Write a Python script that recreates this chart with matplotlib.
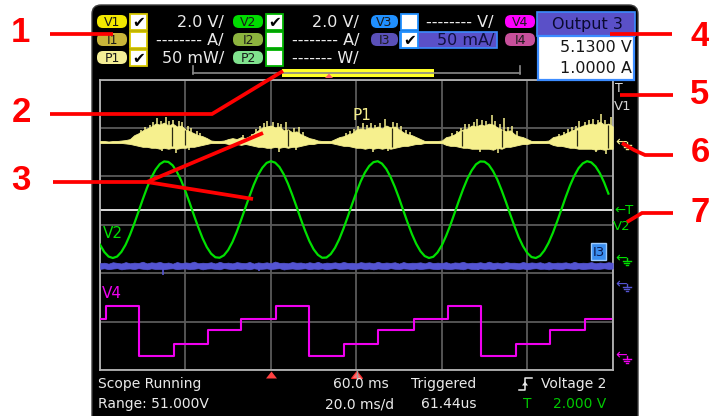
import numpy as np
import matplotlib
matplotlib.use("Agg")
import matplotlib.pyplot as plt
from matplotlib.patches import FancyBboxPatch, Rectangle, Polygon

# ---------------- data ----------------
TIME_DIV_MS = 20.0          # "20.0 ms/d"
N_DIV_X, N_DIV_Y = 6, 6
SAMPLE_MS = 1.0             # spacing of the values read below

# V2 (volts, 2.0 V/div), read every 1 ms from t = 0
v2_volts = [0.55, 0.25, 0.06, 0.00, 0.06, 0.25, 0.55, 0.95, 1.41, 1.91,
            2.42, 2.90, 3.32, 3.65, 3.88, 3.99, 3.97, 3.83, 3.56, 3.20,
            2.76, 2.27, 1.76, 1.27, 0.82, 0.45, 0.18, 0.03, 0.01, 0.11,
            0.33, 0.66, 1.08, 1.56, 2.06, 2.56, 3.03, 3.43, 3.73, 3.93,
            4.00, 3.94, 3.76, 3.46, 3.07, 2.61, 2.12, 1.61, 1.13, 0.70,
            0.36, 0.13, 0.01, 0.02, 0.16, 0.42, 0.78, 1.22, 1.71, 2.22,
            2.71, 3.16, 3.53, 3.80, 3.96, 4.00, 3.90, 3.68, 3.35, 2.94,
            2.47, 1.96, 1.46, 0.99, 0.59, 0.28, 0.08, 0.00, 0.05, 0.23,
            0.52, 0.91, 1.36, 1.86, 2.37, 2.85, 3.28, 3.62, 3.87, 3.99,
            3.98, 3.85, 3.59, 3.24, 2.80, 2.32, 1.81, 1.32, 0.86, 0.49,
            0.21, 0.04, 0.00, 0.09, 0.31, 0.63, 1.04, 1.51, 2.01, 2.52,
            2.99, 3.39, 3.71, 3.91, 4.00, 3.95, 3.78, 3.50, 3.12, 2.66]

# P1 (mW, 50 mW/div): upper / lower envelope of the noisy trace, every 1 ms
p1_upper_mw = [1, 1, 0.5, 1, 1, 1.5, 2, 3, 7, 9,
               12, 14, 16, 19, 18, 20, 17, 19, 16, 17,
               13, 11, 9, 7, 6, 4, 1.5, 1, 1, 1.5,
               3, 4, 3, 5, 4, 6, 9, 12, 15, 16,
               17, 15, 16, 12, 13, 10, 11, 8, 6, 4,
               3, 1.5, 1, 1, 1, 3, 5, 6, 8, 9,
               13, 14, 13, 15, 14, 16, 14, 17, 15, 16,
               13, 10, 8, 7, 5, 3, 1, 1, 1, 1,
               1.5, 5, 6, 8, 11, 13, 14, 17, 16, 18,
               17, 19, 18, 15, 13, 11, 12, 8, 6, 5,
               3, 1, 1, 1, 1, 1.5, 5, 6, 7, 9,
               11, 13, 15, 17, 18, 19, 18, 21, 18, 19, 16]
p1_lower_mw = [-1, -1, -1, -1, -1, -1, -1.5, -2, -3, -4,
               -5, -5, -6, -6, -7, -6, -7, -6, -7, -6,
               -6, -5, -5, -4, -3, -2, -1, -1, -1, -1,
               -2, -2, -2, -3, -2, -3, -4, -5, -5, -6,
               -6, -5, -6, -5, -6, -5, -5, -4, -3, -2,
               -2, -1, -1, -1, -1, -2, -3, -4, -4, -5,
               -6, -6, -7, -6, -7, -6, -7, -6, -7, -6,
               -5, -4, -4, -3, -2, -2, -1, -1, -1, -1,
               -1, -3, -4, -4, -5, -6, -6, -7, -7, -7,
               -7, -7, -8, -6, -7, -5, -5, -4, -3, -2,
               -2, -1, -1, -1, -1, -1, -3, -4, -4, -5,
               -6, -6, -7, -7, -7, -7, -8, -7, -8, -7, -7]
p1_spike_t = [9.5, 10.5, 11.6, 12.4, 13.3, 14.2, 15.4, 16.2, 17.0, 18.4,
              19.3, 20.5, 21.4, 22.6, 23.5,
              33.5, 35.5, 36.6, 37.4, 38.3, 39.0, 40.4, 41.6, 42.4, 43.5,
              45.3, 46.5, 47.6,
              57.5, 58.6, 59.5, 60.5, 61.5, 62.6, 63.5, 64.4, 65.6, 66.8,
              68.5, 69.5, 70.5, 71.6, 72.5,
              82.5, 83.6, 84.4, 85.5, 86.4, 87.5, 88.3, 89.5, 90.4, 91.7,
              92.5, 93.6, 94.5, 95.5, 96.5, 97.6,
              107.5, 108.6, 109.5, 110.5, 111.4, 112.0, 113.5, 114.5, 115.4, 116.5,
              117.3, 118.2, 119.5,
              14.5, 17.8, 20.8, 42.0, 45.8, 64.0, 67.5, 89.0, 93.2, 116.0, 118.5]
p1_spike_mw = [12, 15, 18, 21, 25, 22, 26, 22, 23, 22,
               21, 16, 14, 11, 9,
               7, 8, 13, 16, 20, 22, 21, 20, 19, 21,
               14, 15, 10,
               9, 11, 13, 17, 20, 18, 20, 18, 20, 24,
               21, 20, 16, 12, 10,
               9, 11, 14, 19, 19, 21, 24, 23, 22, 28,
               22, 19, 25, 15, 16, 11,
               8, 10, 13, 15, 17, 22, 21, 23, 24, 23,
               29, 23, 26,
               -9, -11, -8, -10, -8, -10, -9, -10, -11, -10, -12]
p1_gap_t = [16.9, 19.9, 44.0, 68.3, 84.7, 94.0, 111.6, 118.9]
p1_gap_lo = [-4, -3, -4, -5, -4, -5, -4, -6]
p1_gap_hi = [15, 12, 12, 14, 11, 12, 12, 18]

# I3 (mA, 50 mA/div): noisy band, every 1 ms
i3_upper_ma = [21.5, 22.0, 21.0, 22.5, 21.8, 21.2, 22.6, 21.4, 22.1, 21.7,
               23.0, 21.3, 22.4, 21.9, 22.8, 21.5, 22.2, 21.0, 22.7, 21.6,
               22.3, 21.8, 23.1, 21.4, 22.0, 21.7, 22.5, 21.2, 22.9, 21.6,
               22.1, 21.3, 22.6, 21.9, 21.5, 22.8, 21.1, 22.3, 21.7, 22.4,
               21.5, 23.2, 21.8, 22.0, 21.4, 22.7, 21.9, 22.2, 21.3, 22.5,
               21.6, 22.9, 21.2, 22.1, 21.8, 22.4, 21.5, 22.8, 21.7, 22.0,
               21.3, 22.6, 21.9, 22.3, 21.4, 23.0, 21.6, 22.2, 21.8, 22.5,
               21.1, 22.7, 21.5, 22.0, 21.9, 22.4, 21.3, 22.8, 21.6, 22.1,
               21.7, 22.6, 21.2, 22.3, 21.9, 22.9, 21.4, 22.0, 21.8, 22.5,
               21.5, 23.1, 21.7, 22.2, 21.3, 22.6, 21.9, 22.0, 21.4, 22.8,
               21.6, 22.3, 21.8, 22.5, 21.2, 22.7, 21.5, 22.1, 21.9, 22.4,
               21.3, 22.9, 21.6, 22.0, 21.8, 22.6, 21.4, 22.2, 21.7, 22.5, 21.9]
i3_lower_ma = [15.6, 16.2, 15.3, 15.9, 16.4, 15.1, 15.8, 16.0, 15.4, 16.3,
               15.7, 15.2, 16.1, 15.5, 15.6, 15.3, 15.9, 16.2, 15.3, 15.8,
               16.0, 15.4, 15.7, 16.3, 15.1, 15.9, 16.1, 15.5, 15.2, 16.4,
               15.8, 15.3, 16.0, 15.6, 15.9, 15.2, 16.2, 15.5, 15.7, 16.1,
               15.4, 15.9, 16.3, 15.0, 15.7, 16.0, 15.5, 15.8, 16.2, 15.3,
               15.9, 15.6, 16.1, 15.2, 15.8, 16.4, 15.5, 15.7, 16.0, 15.3,
               15.8, 16.2, 15.4, 15.9, 15.1, 16.0, 15.6, 15.3, 16.3, 15.7,
               15.5, 16.1, 15.8, 15.2, 16.0, 15.4, 15.9, 16.2, 15.6, 15.3,
               16.1, 15.7, 15.4, 16.0, 15.8, 15.2, 16.3, 15.5, 15.4, 16.0,
               15.6, 15.9, 15.3, 16.2, 15.7, 15.4, 16.1, 15.8, 15.5, 16.0,
               15.2, 15.9, 16.3, 15.6, 15.8, 15.1, 16.0, 15.7, 15.4, 16.2,
               15.9, 15.5, 16.1, 15.3, 15.8, 16.0, 15.4, 15.7, 16.2, 15.6, 15.9]
i3_spike_t = [14.7, 37.2, 88.4]
i3_spike_ma = [9.0, 13.5, 14.0]

# V4 (volts, 2 V/div): staircase, level changes at these times
v4_step_t_ms = [0, 1.45, 9.15, 17.3, 25.2, 33.1, 41.2, 48.9, 57.1, 65.0,
                73.4, 81.5, 89.2, 97.3, 105.4, 113.5, 119.5]
v4_step_volts = [1.52, 2.03, 0.0, 0.48, 1.06, 1.52, 2.03, 0.0, 0.48, 1.06,
                 1.52, 2.03, 0.0, 0.48, 1.06, 1.52]

# channel scales (per division) and ground markers (in divisions from bottom)
P1_SCALE, V2_SCALE, I3_SCALE, V4_SCALE = 50.0, 2.0, 50.0, 2.0
P1_GND, V2_GND, I3_GND, V4_GND = 4.711, 2.314, 1.777, 0.298
TRIG_V = 2.0

# header texts
grp_labels = [['V1', 'I1', 'P1'], ['V2', 'I2', 'P2'], ['V3', 'I3'], ['V4', 'I4']]
grp_checked = [[True, False, True], [True, False, False], [False, True], []]
grp_scales = [['2.0 V/', '-------- A/', '50 mW/'],
              ['2.0 V/', '-------- A/', '------- W/'],
              ['-------- V/', '50 mA/'], []]
out_title = 'Output 3'
out_values = ['5.1300 V', '1.0000 A']
status_left = ['Scope Running', 'Range: 51.000V']
status_mid = ['60.0 ms', '20.0 ms/d']
status_trig = ['Triggered', '61.44us']
trig_source = 'Voltage 2'
trig_level = '2.000 V'
callouts = ['1', '2', '3', '4', '5', '6', '7']

# ---------------- figure ----------------
W, H = 709, 416
plt.rcParams['font.family'] = ['DejaVu Sans']
fig = plt.figure(figsize=(W / 100, H / 100), dpi=100)
fig.patch.set_facecolor('white')

P1C, V2C, I3C, V4C = '#F6F08E', '#00E000', '#5454D2', '#F000F0'
TXT = '#EAEAEA'

bg = fig.add_axes([0, 0, 1, 1], zorder=0)
bg.set_xlim(0, W); bg.set_ylim(H, 0); bg.axis('off')
bg.add_patch(FancyBboxPatch((92, 5), 546, 440, boxstyle="round,pad=0,rounding_size=9",
                            fc='black', ec='#3c3c3c', lw=1))

# ---------------- scope grid & traces ----------------
GX0, GX1, GY0, GY1 = 100.0, 612.7, 79.6, 370.0
ax = fig.add_axes([GX0 / W, 1 - GY1 / H, (GX1 - GX0) / W, (GY1 - GY0) / H], zorder=1)
ax.set_facecolor('black')
ax.set_xlim(0, N_DIV_X * TIME_DIV_MS); ax.set_ylim(0, N_DIV_Y)
ax.set_xticks(np.arange(0, N_DIV_X * TIME_DIV_MS + 1, TIME_DIV_MS))
ax.set_yticks(np.arange(0, N_DIV_Y + 1))
ax.tick_params(length=0, labelbottom=False, labelleft=False)
ax.grid(True, color='#5a5a5a', lw=1.3)
ax.set_axisbelow(True)
for s in ax.spines.values():
    s.set_color('#b4b4b4'); s.set_linewidth(1.3)

ax.axhline(V2_GND + TRIG_V / V2_SCALE, color='#dcdcdc', lw=1.4, zorder=2)

# V4 staircase
ax.step(v4_step_t_ms, V4_GND + np.array(v4_step_volts + [v4_step_volts[-1]]) / V4_SCALE,
        where='post', color=V4C, lw=1.5, zorder=3)

# I3 noisy band
t_i3 = np.arange(len(i3_upper_ma)) * SAMPLE_MS
ax.fill_between(t_i3, I3_GND + np.array(i3_lower_ma) / I3_SCALE,
                I3_GND + np.array(i3_upper_ma) / I3_SCALE,
                color=I3C, lw=0.5, zorder=3)
ax.vlines(i3_spike_t, I3_GND + 18 / I3_SCALE, I3_GND + np.array(i3_spike_ma) / I3_SCALE,
          color=I3C, lw=1.2, zorder=3)

# V2 sine
t_v2 = np.arange(len(v2_volts)) * SAMPLE_MS
ax.plot(t_v2, V2_GND + np.array(v2_volts) / V2_SCALE, color=V2C, lw=1.6, zorder=4)

# P1 noisy bursts
t_p1 = np.arange(len(p1_upper_mw)) * SAMPLE_MS
ax.fill_between(t_p1, P1_GND + np.array(p1_lower_mw) / P1_SCALE,
                P1_GND + np.array(p1_upper_mw) / P1_SCALE,
                color=P1C, lw=0.6, zorder=4)
ax.vlines(p1_spike_t, P1_GND, P1_GND + np.array(p1_spike_mw) / P1_SCALE,
          color=P1C, lw=1.1, zorder=4)
ax.vlines(p1_gap_t, P1_GND + np.array(p1_gap_lo) / P1_SCALE,
          P1_GND + np.array(p1_gap_hi) / P1_SCALE, color='#2a2a14', lw=0.9, zorder=5)

# ---------------- overlay (pixel coordinates) ----------------
ov = fig.add_axes([0, 0, 1, 1], zorder=3)
ov.set_xlim(0, W); ov.set_ylim(H, 0); ov.axis('off')

# header: channel badges, check boxes, scales
grp_x = [97, 233, 371, 505]
grp_w = [30, 30, 27, 30]
grp_cols = [['#F2E800', '#C9B53A', '#F4EE96'], ['#00DC00', '#8DB43E', '#80E28E'],
            ['#2090FF', '#5A50B8'], ['#FF00FF', '#C8509C']]
grp_frame = ['#D8C800', '#00B400', '#2090FF', '#FF00FF']
grp_scale_x = [224, 359, 494, 0]
row_y = [21.5, 39.5, 57.5]

# I3 row highlight
ov.add_patch(Rectangle((400, 31.5), 97, 16, fc='#5A50C8', ec='#3C8CFF', lw=1.2))

for g in range(4):
    x0 = grp_x[g]
    for r, lab in enumerate(grp_labels[g]):
        yc = row_y[r]
        ov.add_patch(FancyBboxPatch((x0, yc - 6.5), grp_w[g], 13,
                                    boxstyle="round,pad=0,rounding_size=6",
                                    fc=grp_cols[g][r], ec='none'))
        ov.text(x0 + grp_w[g] / 2, yc + 0.5, lab, color='#1a1a1a', fontsize=9,
                ha='center', va='center')
        if grp_checked[g]:
            bx = x0 + grp_w[g] + 3
            ov.add_patch(Rectangle((bx, yc - 8), 16.5, 16, fc='white',
                                   ec=grp_frame[g], lw=1.3))
            if grp_checked[g][r]:
                ov.text(bx + 8.5, yc + 0.5, '\u2714', color='black', fontsize=11,
                        ha='center', va='center')
    for r, s in enumerate(grp_scales[g]):
        col = '#101040' if s == '50 mA/' else TXT
        ov.text(grp_scale_x[g], row_y[r] + 0.5, s, color=col, fontsize=11.5,
                ha='right', va='center')

# Output 3 box
ov.add_patch(Rectangle((537, 12), 98, 24, fc='#5A50C8', ec='#3C8CFF', lw=1.2))
ov.add_patch(Rectangle((538, 36), 96, 44, fc='white', ec='#3C8CFF', lw=1.6))
ov.text(587, 24, out_title, color='#0a0a30', fontsize=11.5, ha='center', va='center')
ov.text(632, 47.5, out_values[0], color='#151515', fontsize=11.5, ha='right', va='center')
ov.text(632, 68.5, out_values[1], color='#151515', fontsize=11.5, ha='right', va='center')

# timeline bar
ov.add_patch(Rectangle((282, 69), 152, 8, fc='#FFFF28', ec='none'))
ov.plot([193, 520], [73.3, 73.3], color='#8a8a8a', lw=1.2)
ov.plot([193, 193], [66, 74], color='#8a8a8a', lw=1.2)
ov.plot([520, 520], [66, 74], color='#8a8a8a', lw=1.2)
ov.add_patch(Polygon([[325, 78], [333, 78], [329, 73.5]], closed=True, fc='#FF6060', ec='none'))

# trace labels inside grid
ov.text(362, 116, 'P1', color=P1C, fontsize=11, ha='center', va='center')
ov.text(113, 233, 'V2', color=V2C, fontsize=11, ha='center', va='center')
ov.text(112, 294, 'V4', color=V4C, fontsize=11, ha='center', va='center')
ov.add_patch(Rectangle((591, 243), 15, 17, fc='#3A8EF0', ec='#9ccbff', lw=1.0))
ov.text(598.5, 252, 'I3', color='#0a1a50', fontsize=9.5, ha='center', va='center')

# right marker column
ov.text(619, 88, 'T', color='#e0e0e0', fontsize=9, ha='center', va='center')
ov.text(623, 106, 'V1', color='#d4d4d4', fontsize=9.5, ha='center', va='center')
ov.text(624, 210, '\u2190T', color=V2C, fontsize=9.5, ha='center', va='center')
ov.text(622, 227, 'V2', color=V2C, fontsize=9.5, ha='center', va='center')


def gnd_marker(y, col):
    ov.text(621, y, '\u2190', color=col, fontsize=10, ha='center', va='center')
    ov.plot([626.5, 626.5], [y, y + 3], color=col, lw=1)
    ov.plot([622.5, 630.5], [y + 3, y + 3], color=col, lw=1)
    ov.plot([624, 629], [y + 5, y + 5], color=col, lw=1)
    ov.plot([625.5, 627.5], [y + 7, y + 7], color=col, lw=1)


gnd_marker(142, P1C)
gnd_marker(258, V2C)
gnd_marker(284, I3C)
gnd_marker(355.6, V4C)

# bottom markers
ov.add_patch(Polygon([[266, 378.5], [277, 378.5], [271.5, 371.5]], closed=True,
                     fc='#FF4040', ec='none'))
ov.add_patch(Polygon([[351.5, 378.5], [362.5, 378.5], [357, 371.5]], closed=True,
                     fc='#FF7070', ec='#FF3030', lw=0.8))
ov.plot([357, 357], [370, 378], color='#a0a0a0', lw=1)

# status line
ov.text(98, 384, status_left[0], color=TXT, fontsize=10, ha='left', va='center')
ov.text(98, 404, status_left[1], color=TXT, fontsize=10, ha='left', va='center')
ov.text(389, 384, status_mid[0], color=TXT, fontsize=10, ha='right', va='center')
ov.text(394, 404, status_mid[1], color=TXT, fontsize=10, ha='right', va='center')
ov.text(411, 384, status_trig[0], color=TXT, fontsize=10, ha='left', va='center')
ov.text(477, 404, status_trig[1], color=TXT, fontsize=10, ha='right', va='center')
ov.text(606, 384, trig_source, color=TXT, fontsize=10, ha='right', va='center')
ov.text(527, 404, 'T', color='#00C800', fontsize=10, ha='center', va='center')
ov.text(606, 404, trig_level, color='#00C800', fontsize=10, ha='right', va='center')
# rising-edge icon
ov.plot([519, 525, 525, 532], [390, 390, 378, 378], color=TXT, lw=1.1)
ov.add_patch(Polygon([[522, 385.5], [528, 385.5], [525, 381.5]], closed=True, fc=TXT, ec='none'))

# ---------------- red call-outs ----------------
RED = '#FF0000'
LW = 2.7
lines = [
    [(50, 33.5), (113, 33.5)],
    [(50, 114), (212, 114), (283, 71)],
    [(53, 182), (147, 182), (263, 133)],
    [(147, 182), (253, 199)],
    [(610, 33.5), (672, 33.5)],
    [(620, 94.5), (673, 94.5)],
    [(622, 143), (634, 150), (645, 155), (673, 155)],
    [(673, 213), (642, 213), (627, 222)],
]
for pts in lines:
    xs, ys = zip(*pts)
    ov.plot(xs, ys, color=RED, lw=LW, solid_capstyle='butt', solid_joinstyle='miter', zorder=20)

num_pos = [(20.5, 33), (21, 112), (21, 181), (700, 37), (700, 95), (700, 152), (700, 213)]
for s, (x, y) in zip(callouts, num_pos):
    ov.text(x, y, s, color=RED, fontsize=25, fontweight='bold', family='Liberation Sans',
            ha='center', va='center', zorder=21)

fig.savefig('out.png', dpi=100, facecolor='white')
